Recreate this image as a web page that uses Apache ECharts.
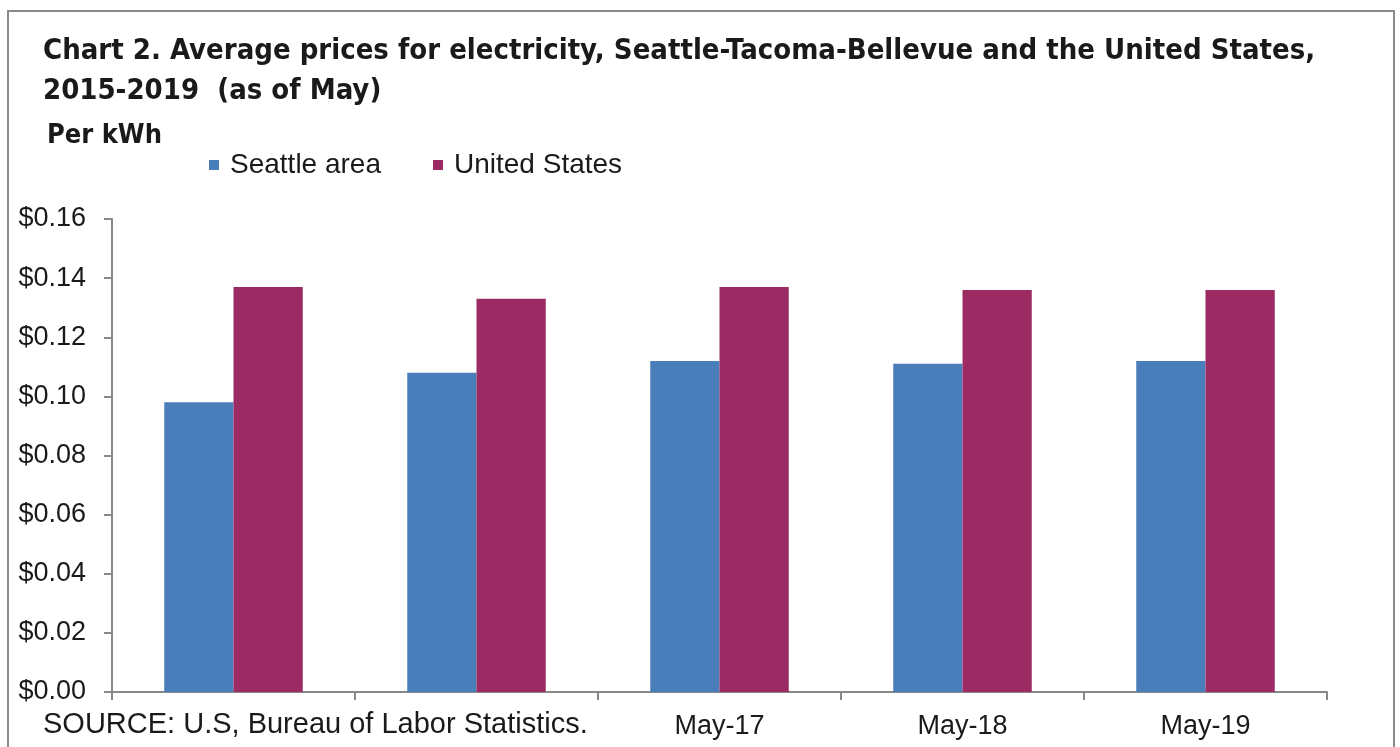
<!DOCTYPE html>
<html>
<head>
<meta charset="utf-8">
<script src="https://cdn.jsdelivr.net/npm/echarts@6/dist/echarts.min.js"></script>
<style>
html,body{margin:0;padding:0;background:#fff;}
#chart{width:1400px;height:747px;}
</style>
</head>
<body>
<div id="chart"></div>
<script>
const categories = ['May-15', 'May-16', 'May-17', 'May-18', 'May-19'];
const seattle = [0.098, 0.108, 0.112, 0.111, 0.112];
const unitedStates = [0.137, 0.133, 0.137, 0.136, 0.136];
const seriesNames = ['Seattle area', 'United States'];
const titleText = 'Chart 2. Average prices for electricity, Seattle-Tacoma-Bellevue and the United States,\n2015-2019  (as of May)';
const unitText = 'Per kWh';
const sourceText = 'SOURCE: U.S, Bureau of Labor Statistics.';

const chart = echarts.init(document.getElementById('chart'));
const narrow = '"Liberation Sans Narrow", "DejaVu Sans Condensed", Arial, sans-serif';
const sans = '"Liberation Sans", Arial, sans-serif';

chart.setOption({
  animation: false,
  backgroundColor: '#fff',
  title: [{
    text: titleText,
    left: 38, top: 26,
    textStyle: {fontFamily: narrow, fontWeight: 'bold', fontSize: 29, lineHeight: 40, color: '#1a1a1a'}
  }, {
    text: unitText,
    left: 42, top: 117,
    textStyle: {fontFamily: narrow, fontWeight: 'bold', fontSize: 27, color: '#1a1a1a'}
  }],
  legend: {
    left: 204, top: 146,
    itemWidth: 10, itemHeight: 10, itemGap: 52,
    icon: 'rect',
    textStyle: {fontFamily: sans, fontSize: 28, color: '#1a1a1a', padding: [0, 0, 0, 6]},
    data: seriesNames
  },
  grid: {left: 112, right: 73, top: 219, bottom: 55, containLabel: false},
  xAxis: {
    type: 'category',
    data: categories,
    axisLine: {lineStyle: {color: '#888', width: 2}},
    axisTick: {show: true, length: 8, lineStyle: {color: '#888', width: 2}},
    axisLabel: {fontFamily: sans, fontSize: 27, color: '#1a1a1a', margin: 21}
  },
  yAxis: {
    type: 'value',
    min: 0, max: 0.16, interval: 0.02,
    splitLine: {show: false},
    axisLine: {show: true, lineStyle: {color: '#888', width: 2}},
    axisTick: {show: true, length: 8, lineStyle: {color: '#888', width: 2}},
    axisLabel: {
      fontFamily: sans, fontSize: 27, color: '#1a1a1a', margin: 26,
      formatter: v => '$' + v.toFixed(2)
    }
  },
  series: [{
    name: seriesNames[0], type: 'bar', data: seattle,
    itemStyle: {color: '#4a7ebb'},
    barGap: '0%', barCategoryGap: '43%'
  }, {
    name: seriesNames[1], type: 'bar', data: unitedStates,
    itemStyle: {color: '#9b2b62'},
    barGap: '0%', barCategoryGap: '43%'
  }],
  graphic: [{
    type: 'rect', z: 100, silent: true,
    shape: {x: 8, y: 11, width: 1386, height: 760},
    style: {fill: 'none', stroke: '#8a8a8a', lineWidth: 2}
  }, {
    type: 'text', z: 100, left: 38, top: 706,
    style: {text: sourceText, font: '29px "Liberation Sans", Arial, sans-serif', fill: '#1a1a1a',
      backgroundColor: '#fff', padding: [4, 30, 10, 5]}
  }]
});
</script>
</body>
</html>
